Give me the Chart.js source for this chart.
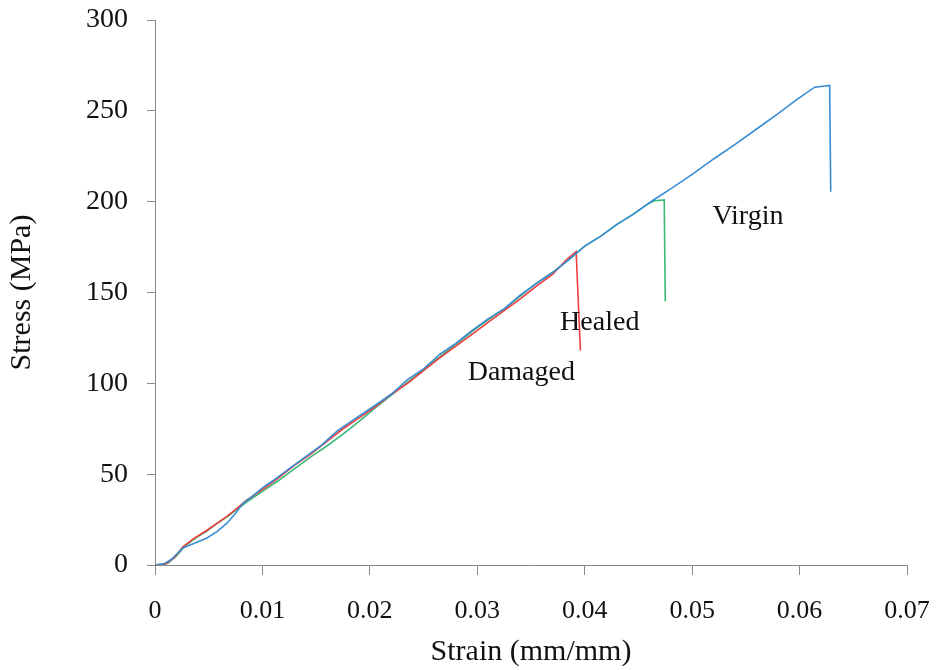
<!DOCTYPE html>
<html>
<head>
<meta charset="utf-8">
<script src="https://cdn.jsdelivr.net/npm/chart.js@4"></script>
<style>
  html, body { margin: 0; padding: 0; background: #fff; }
  #wrap { width: 939px; height: 670px; }
</style>
</head>
<body>
<div id="wrap"><canvas id="stressChart"></canvas></div>
<script>
// strain (mm/mm) / stress (MPa)
const virginStrain = [0, 0.0008, 0.0015, 0.0022, 0.0026, 0.0035, 0.0048, 0.0058, 0.0067, 0.0075, 0.0082, 0.0090,
  0.0100, 0.0110, 0.0125, 0.0140, 0.0155, 0.0170, 0.0185, 0.0203, 0.0220, 0.0235, 0.0250, 0.0265, 0.0280,
  0.0295, 0.0310, 0.0325, 0.0340, 0.0355, 0.0370, 0.0385, 0.0400, 0.0415, 0.0430, 0.0445, 0.0464, 0.0480,
  0.0500, 0.0520, 0.0540, 0.0560, 0.0580, 0.0597, 0.0614, 0.0628, 0.0629];
const virginStress = [0, 0.5, 3, 7, 9.4, 11.5, 14.7, 18.5, 23, 28.5, 34, 37.5,
  42.5, 46.5, 53, 59.5, 66, 74, 80, 87.1, 94, 102, 108, 116, 122,
  129, 135.5, 141, 148.5, 155, 161, 168, 175.5, 181, 187.5, 193, 200.9, 207,
  215, 223.5, 231.5, 240, 248.5, 256, 263, 264, 205.5];

const damagedStrain = [0, 0.0010, 0.0018, 0.0026, 0.0036, 0.0048, 0.0058, 0.0067, 0.0076, 0.0085, 0.0100,
  0.0115, 0.0130, 0.0145, 0.0160, 0.0175, 0.0190, 0.0205, 0.0220, 0.0235, 0.0250, 0.0265, 0.0280, 0.0295,
  0.0310, 0.0325, 0.0340, 0.0355, 0.0370, 0.0383, 0.0392, 0.0396];
const damagedStress = [0, 0.5, 4, 10, 14.5, 19, 23, 26.8, 31, 35.5, 41.5,
  48, 55, 61, 68, 75, 81, 87, 94, 100, 107, 114, 120.5, 127,
  133.5, 140, 146.5, 153.5, 160, 168, 172.5, 118];

const healedStrain = [0, 0.0012, 0.0020, 0.0028, 0.0038, 0.0048, 0.0058, 0.0067, 0.0076, 0.0085, 0.0100,
  0.0115, 0.0130, 0.0145, 0.0160, 0.0175, 0.0190, 0.0205, 0.0220, 0.0235, 0.0250, 0.0265, 0.0280, 0.0295,
  0.0310, 0.0325, 0.0340, 0.0355, 0.0370, 0.0385, 0.0400, 0.0415, 0.0430, 0.0445, 0.0458, 0.0465, 0.0474, 0.0475];
const healedStress = [0, 1, 5, 10.5, 15, 18.5, 23, 26.5, 30.5, 34.5, 40.5,
  46.5, 53, 59.5, 65.5, 72, 79, 86.5, 93.5, 100.5, 107.5, 114.5, 121.5, 128.5,
  135, 141, 148, 155, 161, 168, 175.5, 181, 187.5, 193, 198.5, 200.5, 201, 145];

const curveNames = ['Virgin', 'Healed', 'Damaged'];
const labelStrain = [0.0552, 0.0414, 0.0341];
const labelStress = [191.5, 133.5, 106];

const serif = "'Liberation Serif', 'Times New Roman', serif";

function toPoints(xs, ys) {
  return xs.map((x, i) => ({ x: x, y: ys[i] }));
}

const curveLabels = {
  id: 'curveLabels',
  afterDatasetsDraw(chart) {
    const ctx = chart.ctx;
    const xs = chart.scales.x, ys = chart.scales.y;
    ctx.save();
    ctx.font = '28px ' + serif;
    ctx.fillStyle = '#111';
    ctx.textAlign = 'center';
    ctx.textBaseline = 'middle';
    curveNames.forEach((name, i) => {
      ctx.fillText(name, xs.getPixelForValue(labelStrain[i]), ys.getPixelForValue(labelStress[i]));
    });
    ctx.restore();
  }
};

new Chart(document.getElementById('stressChart').getContext('2d'), {
  type: 'line',
  data: {
    datasets: [
      { label: 'Virgin', data: toPoints(virginStrain, virginStress), borderColor: '#3a8cd2' },
      { label: 'Damaged', data: toPoints(damagedStrain, damagedStress), borderColor: '#ee3d3d' },
      { label: 'Healed', data: toPoints(healedStrain, healedStress), borderColor: '#3cb878' }
    ]
  },
  options: {
    responsive: true,
    maintainAspectRatio: false,
    animation: false,
    parsing: false,
    elements: {
      line: { borderWidth: 1.6, tension: 0, fill: false },
      point: { radius: 0 }
    },
    layout: { padding: { left: 0, right: 32, top: 20, bottom: 0 } },
    plugins: {
      legend: { display: false },
      tooltip: { enabled: false }
    },
    scales: {
      x: {
        type: 'linear',
        min: 0,
        max: 0.07,
        ticks: {
          stepSize: 0.01,
          color: '#111',
          padding: 21,
          maxRotation: 0,
          font: { family: serif, size: 26 },
          callback: (v) => (Math.abs(v) < 1e-9 ? '0' : v.toFixed(2))
        },
        grid: { drawOnChartArea: false, tickLength: 10, color: '#8a8a8a' },
        border: { color: '#8a8a8a', width: 1 },
        title: {
          display: true,
          text: 'Strain (mm/mm)',
          color: '#111',
          font: { family: serif, size: 30 },
          padding: { top: 2, bottom: 0 }
        },
        afterFit: (s) => {
          s.height = 105;
          s.paddingLeft = 0;
          s.paddingRight = 0;
        }
      },
      y: {
        min: 0,
        max: 300,
        ticks: {
          stepSize: 50,
          color: '#111',
          padding: 19,
          font: { family: serif, size: 28 }
        },
        grid: { drawOnChartArea: false, tickLength: 8, color: '#8a8a8a' },
        border: { color: '#8a8a8a', width: 1 },
        title: {
          display: true,
          text: 'Stress (MPa)',
          color: '#111',
          font: { family: serif, size: 30 },
          padding: { top: 4, bottom: 0 }
        },
        afterFit: (s) => {
          s.width = 155;
          s.paddingTop = 0;
          s.paddingBottom = 0;
        }
      }
    }
  },
  plugins: [curveLabels]
});
</script>
</body>
</html>
